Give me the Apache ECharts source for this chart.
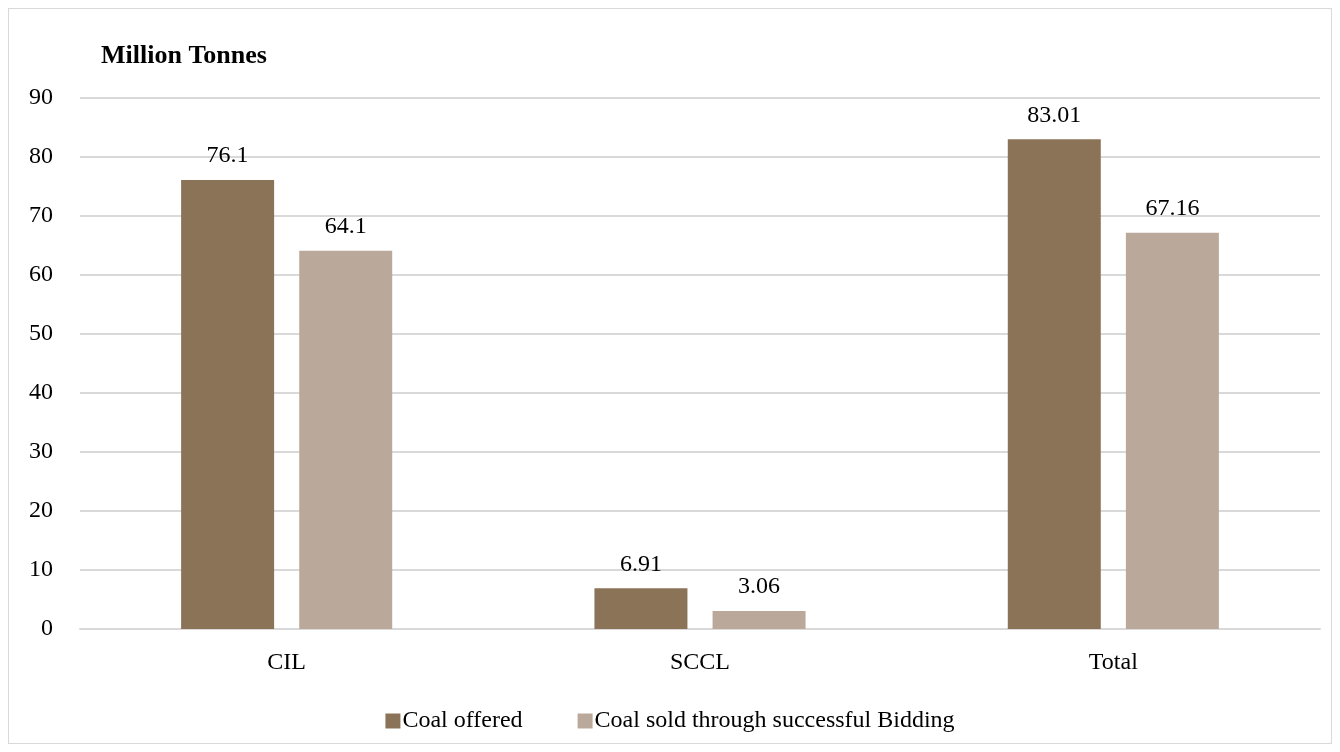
<!DOCTYPE html>
<html>
<head>
<meta charset="utf-8">
<script src="https://cdn.jsdelivr.net/npm/echarts@6/dist/echarts.min.js"></script>
<style>
html,body{margin:0;padding:0;background:#fff;}
#frame{position:absolute;left:8px;top:8px;width:1322px;height:734px;border:1px solid #d9d9d9;}
#chart{position:absolute;left:0;top:0;width:1340px;height:752px;}
</style>
</head>
<body>
<div id="frame"></div>
<div id="chart"></div>
<script>
const categories = ["CIL", "SCCL", "Total"];
const coalOffered = [76.1, 6.91, 83.01];
const coalSold = [64.1, 3.06, 67.16];
const seriesNames = ["Coal offered", "Coal sold through successful Bidding"];
const yTitle = "Million Tonnes";

const font = "'Liberation Serif', 'DejaVu Serif', serif";
const fs = 24;
const chart = echarts.init(document.getElementById('chart'));
chart.setOption({
  animation: false,
  textStyle: { fontFamily: font },
  title: {
    text: yTitle, left: 96, top: 38,
    textStyle: { fontFamily: font, fontSize: 26, fontWeight: 'bold', color: '#000' }
  },
  legend: {
    bottom: 14, left: 'center', itemWidth: 15, itemHeight: 15, itemGap: 55,
    icon: 'rect',
    textStyle: { fontFamily: font, fontSize: fs, color: '#000', padding: [0,0,0,-3] },
    data: seriesNames
  },
  grid: { left: 80, right: 20, top: 98, bottom: 123 },
  xAxis: {
    type: 'category', data: categories,
    axisLine: { lineStyle: { color: '#d9d9d9', width: 2 } },
    axisTick: { show: false },
    axisLabel: { fontFamily: font, fontSize: fs, color: '#000', margin: 22 }
  },
  yAxis: {
    type: 'value', min: 0, max: 90, interval: 10,
    axisLine: { show: false }, axisTick: { show: false },
    splitLine: { lineStyle: { color: '#d9d9d9', width: 2 } },
    axisLabel: { fontFamily: font, fontSize: fs, color: '#000', margin: 27 }
  },
  series: [
    {
      name: seriesNames[0], type: 'bar', data: coalOffered,
      barWidth: 93, barGap: '27%',
      itemStyle: { color: '#8b7357' },
      label: { show: true, position: 'top', distance: 12, fontFamily: font, fontSize: fs, color: '#000' }
    },
    {
      name: seriesNames[1], type: 'bar', data: coalSold,
      barWidth: 93,
      itemStyle: { color: '#baa99a' },
      label: { show: true, position: 'top', distance: 12, fontFamily: font, fontSize: fs, color: '#000' }
    }
  ]
});
</script>
</body>
</html>
